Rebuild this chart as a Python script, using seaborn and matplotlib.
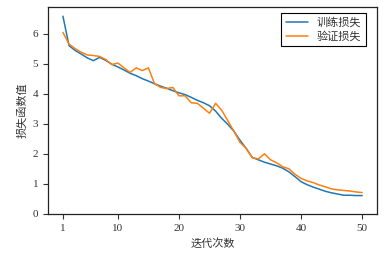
import numpy as np
import pandas as pd
import matplotlib
matplotlib.use("Agg")
import matplotlib.pyplot as plt
import seaborn as sns

epochs = list(range(1, 51))
train_loss = [6.58, 5.60, 5.44, 5.32, 5.19, 5.10, 5.21, 5.11, 4.98, 4.89,
              4.79, 4.68, 4.60, 4.50, 4.42, 4.33, 4.25, 4.18, 4.10, 4.03,
              3.97, 3.88, 3.78, 3.70, 3.60, 3.42, 3.18, 2.98, 2.75, 2.45,
              2.18, 1.88, 1.80, 1.72, 1.66, 1.60, 1.52, 1.40, 1.24, 1.07,
              0.97, 0.89, 0.82, 0.75, 0.70, 0.66, 0.62, 0.62, 0.61, 0.61]
val_loss = [6.04, 5.65, 5.50, 5.38, 5.29, 5.27, 5.24, 5.14, 4.97, 5.02,
            4.86, 4.71, 4.86, 4.77, 4.86, 4.33, 4.21, 4.17, 4.21, 3.93,
            3.93, 3.70, 3.68, 3.52, 3.35, 3.68, 3.45, 3.10, 2.75, 2.38,
            2.18, 1.87, 1.83, 2.00, 1.80, 1.70, 1.57, 1.50, 1.32, 1.18,
            1.10, 1.04, 0.96, 0.90, 0.83, 0.80, 0.78, 0.76, 0.73, 0.71]
series_names = ["训练损失", "验证损失"]
x_ticks = [1, 10, 20, 30, 40, 50]
x_label = "迭代次数"
y_label = "损失函数值"

sns.set_style("ticks")
plt.rcParams['font.family'] = ['Liberation Serif', 'Noto Sans CJK SC']
plt.rcParams['axes.unicode_minus'] = False

df = pd.DataFrame({
    "epoch": epochs * 2,
    "loss": train_loss + val_loss,
    "series": [series_names[0]] * len(epochs) + [series_names[1]] * len(epochs),
})

fig = plt.figure(figsize=(3.9, 2.58), dpi=100)
ax = fig.add_axes([0.123, 0.171, 0.844, 0.801])
sns.lineplot(data=df, x="epoch", y="loss", hue="series",
             palette=["#1f77b4", "#ff7f0e"], linewidth=1.1, ax=ax)
ax.set_ylim(bottom=0)
ax.set_xticks(x_ticks)
ax.set_xlabel(x_label, fontsize=8, family=['Noto Sans CJK SC'], color="#333333")
ax.set_ylabel(y_label, fontsize=8, family=['Noto Sans CJK SC'], color="#333333")
ax.tick_params(labelsize=8, colors="#333333", length=3.5, width=0.8)
for s in ax.spines.values():
    s.set_color("#222222")
    s.set_linewidth(0.9)
leg = ax.legend(loc="upper right", bbox_to_anchor=(0.983, 1.0), fancybox=False,
                edgecolor="black", framealpha=1,
                prop={'family': ['Noto Sans CJK SC'], 'size': 8},
                handlelength=2.0, borderpad=0.4, labelspacing=0.3)
leg.get_frame().set_linewidth(0.8)
for t in leg.get_texts():
    t.set_color("#333333")
fig.savefig("out.png", dpi=100)
